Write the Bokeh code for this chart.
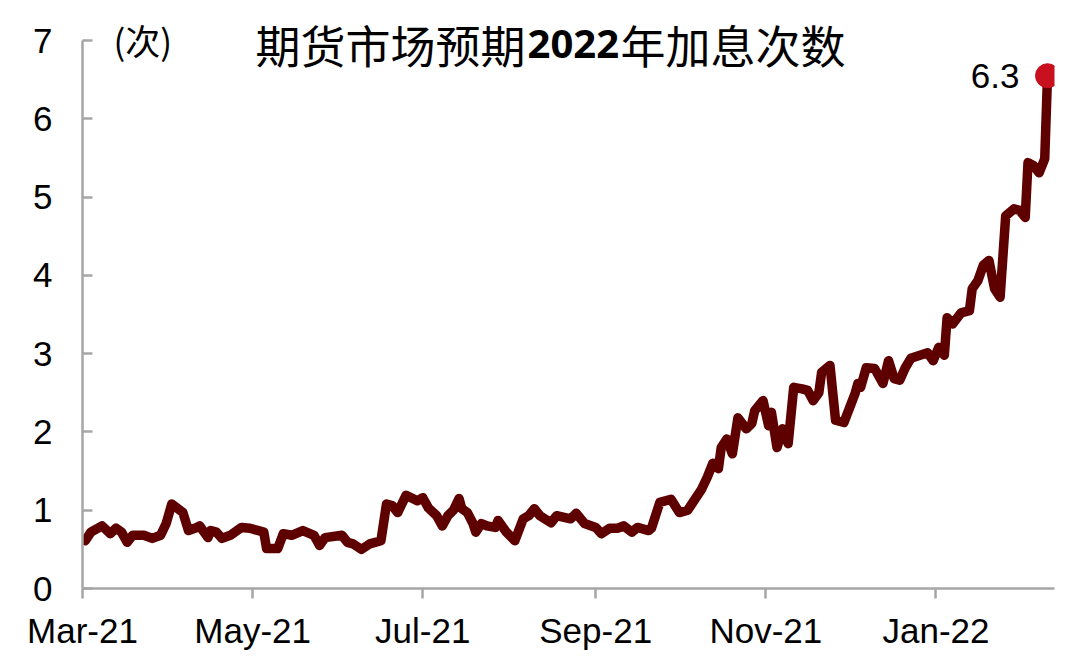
import pandas as pd
from bokeh.plotting import figure
from bokeh.models import Label, FixedTicker, Range1d, ColumnDataSource
from bokeh.embed import file_html
from bokeh.resources import INLINE

# ---------------- data ----------------
dates = [
    "2021-03-02", "2021-03-04", "2021-03-08", "2021-03-11", "2021-03-13", "2021-03-15",
    "2021-03-17", "2021-03-19", "2021-03-23", "2021-03-26", "2021-03-29", "2021-03-31",
    "2021-04-02", "2021-04-06", "2021-04-08", "2021-04-11", "2021-04-12", "2021-04-15",
    "2021-04-16", "2021-04-18", "2021-04-20", "2021-04-23", "2021-04-27", "2021-04-30",
    "2021-05-05", "2021-05-06", "2021-05-10", "2021-05-12", "2021-05-15", "2021-05-19",
    "2021-05-23", "2021-05-25", "2021-05-27", "2021-06-02", "2021-06-04", "2021-06-06",
    "2021-06-09", "2021-06-12", "2021-06-16", "2021-06-18", "2021-06-20", "2021-06-22",
    "2021-06-25", "2021-06-29", "2021-07-01", "2021-07-03", "2021-07-06", "2021-07-08",
    "2021-07-10", "2021-07-12", "2021-07-14", "2021-07-15", "2021-07-17", "2021-07-19",
    "2021-07-20", "2021-07-22", "2021-07-24", "2021-07-27", "2021-07-28", "2021-07-31",
    "2021-08-03", "2021-08-06", "2021-08-08", "2021-08-10", "2021-08-12", "2021-08-16",
    "2021-08-18", "2021-08-23", "2021-08-25", "2021-08-28", "2021-09-01", "2021-09-03",
    "2021-09-06", "2021-09-09", "2021-09-11", "2021-09-14", "2021-09-16", "2021-09-20",
    "2021-09-21", "2021-09-24", "2021-09-28", "2021-10-01", "2021-10-04", "2021-10-09",
    "2021-10-11", "2021-10-13", "2021-10-15", "2021-10-16", "2021-10-18", "2021-10-20",
    "2021-10-22", "2021-10-25", "2021-10-27", "2021-10-28", "2021-10-31", "2021-11-02",
    "2021-11-03", "2021-11-05", "2021-11-07", "2021-11-09", "2021-11-11", "2021-11-14",
    "2021-11-16", "2021-11-18", "2021-11-20", "2021-11-21", "2021-11-24", "2021-11-26",
    "2021-11-29", "2021-12-03", "2021-12-04", "2021-12-05", "2021-12-07", "2021-12-10",
    "2021-12-13", "2021-12-15", "2021-12-17", "2021-12-19", "2021-12-21", "2021-12-23",
    "2021-12-29", "2021-12-31", "2022-01-02", "2022-01-04", "2022-01-05", "2022-01-07",
    "2022-01-10", "2022-01-13", "2022-01-14", "2022-01-16", "2022-01-18", "2022-01-20",
    "2022-01-22", "2022-01-24", "2022-01-26", "2022-01-29", "2022-01-31", "2022-02-02",
    "2022-02-03", "2022-02-05", "2022-02-07", "2022-02-09", "2022-02-10",
]
hikes = [
    0.61, 0.72, 0.80, 0.70, 0.77, 0.72,
    0.59, 0.68, 0.68, 0.64, 0.68, 0.83,
    1.08, 0.97, 0.74, 0.78, 0.80, 0.65,
    0.74, 0.72, 0.64, 0.68, 0.78, 0.77,
    0.72, 0.51, 0.51, 0.70, 0.68, 0.74,
    0.68, 0.55, 0.65, 0.68, 0.59, 0.57,
    0.50, 0.57, 0.61, 1.08, 1.06, 0.97,
    1.19, 1.12, 1.16, 1.03, 0.93, 0.80,
    0.93, 1.00, 1.15, 1.02, 0.97, 0.83,
    0.72, 0.83, 0.80, 0.78, 0.87, 0.72,
    0.61, 0.89, 0.93, 1.02, 0.93, 0.84,
    0.93, 0.89, 0.96, 0.83, 0.78, 0.70,
    0.77, 0.77, 0.80, 0.72, 0.78, 0.74,
    0.77, 1.10, 1.14, 0.97, 1.00, 1.27,
    1.42, 1.60, 1.53, 1.80, 1.91, 1.72,
    2.18, 2.04, 2.11, 2.27, 2.40, 2.08,
    2.25, 1.80, 2.04, 1.85, 2.57, 2.55,
    2.53, 2.40, 2.50, 2.76, 2.85, 2.15,
    2.12, 2.49, 2.62, 2.57, 2.82, 2.81,
    2.62, 2.91, 2.68, 2.66, 2.82, 2.94,
    3.01, 2.91, 3.08, 2.98, 3.46, 3.38,
    3.52, 3.55, 3.83, 3.93, 4.13, 4.19,
    3.83, 3.72, 4.76, 4.85, 4.83, 4.74,
    5.44, 5.40, 5.31, 5.49, 6.55,
]
x_tick_dates = ["2021-03-01", "2021-05-01", "2021-07-01", "2021-09-01", "2021-11-01", "2022-01-01"]
x_tick_labels = ["Mar-21", "May-21", "Jul-21", "Sep-21", "Nov-21", "Jan-22"]
y_ticks = [0, 1, 2, 3, 4, 5, 6, 7]
last_label = "6.3"
unit_label = "(次)"
title_parts = ["期货市场预期", "2022", "年加息次数"]

# ---------------- figure ----------------
x = pd.to_datetime(dates)
src = ColumnDataSource(dict(x=x, y=hikes))

x_start = pd.Timestamp("2021-03-01")
x_end = pd.Timestamp("2022-02-12 12:00")

W, H = 1074, 660
BL, BR, BT, BB = 82, 20, 0, 72
frame_w = W - BL - BR
frame_h = H - BT - BB
px_per_unit = 548 / 7.0          # axis 0..7 spans 548 px
y_end = frame_h / px_per_unit    # leave room above 7 for the title


def px_to_date(px):
    # horizontal pixel inside the page -> timestamp on the x range
    return x_start + (x_end - x_start) * ((px - BL) / frame_w)


p = figure(width=W, height=H, x_axis_type="datetime",
           x_range=Range1d(x_start, x_end), y_range=Range1d(0, y_end),
           output_backend="svg", toolbar_location=None,
           min_border_left=BL, min_border_right=BR,
           min_border_top=BT, min_border_bottom=BB)
p.outline_line_color = None
p.background_fill_color = "white"
p.border_fill_color = "white"
p.xgrid.grid_line_color = None
p.ygrid.grid_line_color = None

axis_color = "#a6a6a6"
tick_ms = [pd.Timestamp(d).value // 10**6 for d in x_tick_dates]
p.xaxis.ticker = FixedTicker(ticks=tick_ms)
p.xaxis.major_label_overrides = {t: lab for t, lab in zip(tick_ms, x_tick_labels)}
p.xaxis.minor_tick_line_color = None
p.xaxis.major_tick_out = 10
p.xaxis.major_tick_in = 0
p.xaxis.major_label_standoff = 12

p.yaxis.ticker = FixedTicker(ticks=y_ticks)
p.yaxis.bounds = (y_ticks[0], y_ticks[-1])
p.yaxis.minor_tick_line_color = None
p.yaxis.major_tick_in = 10
p.yaxis.major_tick_out = 0
p.yaxis.major_label_standoff = 30

for ax in (p.xaxis, p.yaxis):
    ax.axis_line_color = axis_color
    ax.axis_line_width = 2.5
    ax.major_tick_line_color = axis_color
    ax.major_tick_line_width = 2.5
    ax.major_label_text_font = "Liberation Sans"
    ax.major_label_text_font_size = "35px"
    ax.major_label_text_color = "black"

p.line("x", "y", source=src, line_color="#5e0000", line_width=9.5,
       line_join="round", line_cap="round")
p.scatter(x=[x[-1]], y=[hikes[-1]], size=24, fill_color="#c8101e", line_color="#c8101e")

p.add_layout(Label(x=x[-1], y=hikes[-1], text=last_label, x_offset=-28,
                   text_align="right", text_baseline="middle",
                   text_font="Liberation Sans", text_font_size="35px", text_color="black"))

p.add_layout(Label(x=px_to_date(113), y=7.0, y_offset=1, text=unit_label,
                   text_align="left", text_baseline="middle",
                   text_font="Noto Sans CJK SC", text_font_size="35px", text_color="black"))

title_y = 6.95
p.add_layout(Label(x=px_to_date(255), y=title_y, text=title_parts[0],
                   text_align="left", text_baseline="middle",
                   text_font="Noto Sans CJK SC", text_font_size="45px", text_color="black"))
p.add_layout(Label(x=px_to_date(527), y=title_y, text=title_parts[1],
                   text_align="left", text_baseline="middle", text_font_style="bold",
                   text_font="Noto Sans", text_font_size="40px", text_color="black"))
p.add_layout(Label(x=px_to_date(620), y=title_y, text=title_parts[2],
                   text_align="left", text_baseline="middle",
                   text_font="Noto Sans CJK SC", text_font_size="45px", text_color="black"))

open("out.html", "w").write(file_html(p, INLINE))
